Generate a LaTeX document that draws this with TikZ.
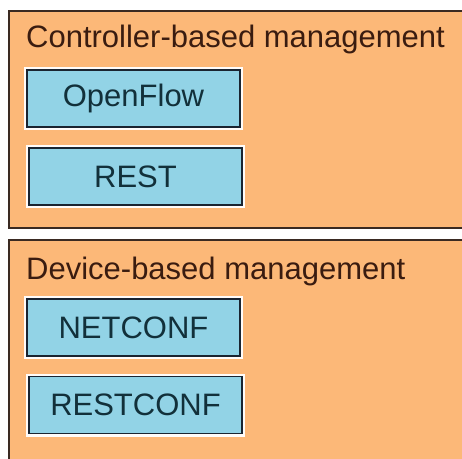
\documentclass[tikz,border=0pt]{standalone}
\usepackage{fontspec}
\setmainfont{Liberation Sans}
\definecolor{grpfill}{HTML}{FCB878}
\definecolor{boxfill}{HTML}{92D3E6}
\definecolor{grpline}{HTML}{3A2A22}
\definecolor{boxline}{HTML}{1A2430}
\definecolor{titletext}{HTML}{3A1C10}
\definecolor{boxtext}{HTML}{12303A}
\begin{document}
\begin{tikzpicture}[x=1pt,y=-1pt,
  grp/.style={draw=grpline,line width=1.4pt,fill=grpfill},
  proto/.style={draw=boxline,line width=1.4pt,fill=boxfill,
    preaction={draw=white!96!grpfill,line width=6pt},
    minimum width=213pt,minimum height=57pt,inner sep=0pt,
    font=\fontsize{31}{34}\selectfont,text=boxtext},
  grptitle/.style={anchor=base west,inner sep=0pt,
    font=\fontsize{31}{34}\selectfont,text=titletext}]
\useasboundingbox (0,0) rectangle (462,458);
\fill[white] (0,0) rectangle (462,458);
\clip (0,0) rectangle (462,458);
\draw[grp] (9,11) rectangle (470,228);
\draw[grp] (9,240) rectangle (470,470);
\node[grptitle] (t1) at (26,47) {Controller-based management};
\node[grptitle] (t2) at (26,279) {Device-based management};
\node[proto] (of) at (133.5,98.5) {OpenFlow};
\node[proto] (rest) at (135.5,176.5) {REST};
\node[proto] (nc) at (133.5,327.5) {NETCONF};
\node[proto] (rc) at (135.5,405) {RESTCONF};
\end{tikzpicture}
\end{document}
